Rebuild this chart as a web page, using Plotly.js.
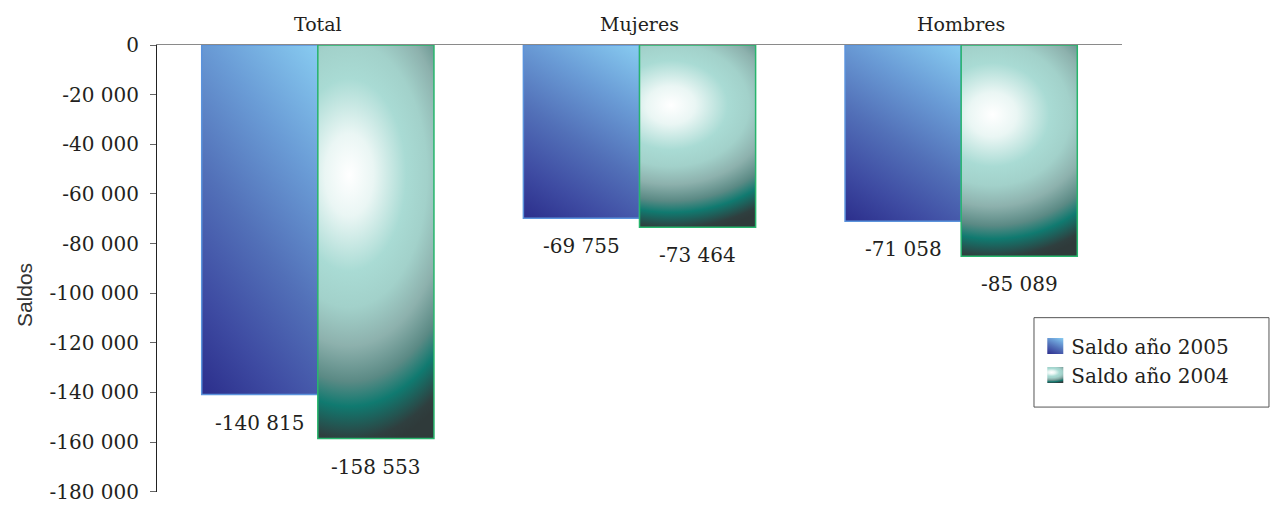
<!DOCTYPE html>
<html>
<head>
<meta charset="utf-8">
<script src="https://cdn.plot.ly/plotly-3.0.1.min.js"></script>
<style>
html,body{margin:0;padding:0;background:#fff;}
#chart{width:1270px;height:505px;}
</style>
</head>
<body>
<div id="chart"></div>
<script>
// ---- data ----
const categories = ["Total", "Mujeres", "Hombres"];
const seriesNames = ["Saldo año 2005", "Saldo año 2004"];
const saldo2005 = [-140815, -69755, -71058];
const saldo2004 = [-158553, -73464, -85089];
const yTickVals = [0, -20000, -40000, -60000, -80000, -100000, -120000, -140000, -160000, -180000];
const yTickText = ["0", "-20 000", "-40 000", "-60 000", "-80 000", "-100 000", "-120 000", "-140 000", "-160 000", "-180 000"];

function fmt(v) {
  const s = Math.abs(v).toString().replace(/\B(?=(\d{3})+(?!\d))/g, " ");
  return (v < 0 ? "-" : "") + s;
}

const serif = "DejaVu Serif, serif";
const textColor = "#231f20";
const bargap = 0.278;

const traces = [
  {
    type: "bar", name: seriesNames[0], x: categories, y: saldo2005,
    marker: {color: "#4a67b2", line: {color: "#5b93dc", width: 1.5}},
    hoverinfo: "none"
  },
  {
    type: "bar", name: seriesNames[1], x: categories, y: saldo2004,
    marker: {color: "#8fc9c1", line: {color: "#27b56c", width: 1.5}},
    hoverinfo: "none"
  }
];

// data labels below each bar end
const annotations = [];
[saldo2005, saldo2004].forEach((arr, j) => {
  arr.forEach((v, i) => {
    annotations.push({
      x: i + (j === 0 ? -1 : 1) * (1 - bargap) / 4,
      y: v, xref: "x", yref: "y",
      text: fmt(v), showarrow: false,
      yshift: -28, yanchor: "middle", xanchor: "center",
      font: {family: serif, size: 20, color: textColor}
    });
  });
});
annotations.push({
  xref: "paper", yref: "paper", x: -0.137, y: 0.44,
  text: "Saldos", textangle: -90, showarrow: false,
  xanchor: "center", yanchor: "middle",
  font: {family: "Liberation Sans, Arial, sans-serif", size: 21, color: "#333"}
});

const layout = {
  width: 1270, height: 505,
  margin: {l: 157, r: 148, t: 45, b: 13, pad: 0},
  paper_bgcolor: "#fff", plot_bgcolor: "#fff",
  barmode: "group", bargap: bargap, bargroupgap: 0,
  showlegend: true,
  legend: {
    x: 0.906, y: 0.37, xanchor: "left", yanchor: "top",
    bgcolor: "rgba(0,0,0,0)", borderwidth: 0,
    font: {family: serif, size: 20, color: textColor},
    traceorder: "normal"
  },
  xaxis: {
    type: "category", side: "top",
    showline: true, linecolor: "#8a8a8a", linewidth: 1.5,
    ticks: "", showgrid: false, zeroline: false,
    tickfont: {family: serif, size: 19, color: textColor},
    ticklabelstandoff: 5
  },
  yaxis: {
    range: [-180100, 0], autorange: false,
    tickmode: "array", tickvals: yTickVals, ticktext: yTickText,
    showline: true, linecolor: "#222", linewidth: 1,
    ticks: "outside", ticklen: 6, tickcolor: "#666", tickwidth: 1,
    showgrid: false, zeroline: false,
    tickfont: {family: serif, size: 20, color: textColor},
    ticklabelstandoff: 7,
    ticklabeloverflow: "allow"
  },
  shapes: [{
    type: "rect", xref: "paper", yref: "paper",
    x0: 0.9088, x1: 1.1523, y0: 0.19, y1: 0.39,
    line: {color: "#555", width: 1}, fillcolor: "rgba(0,0,0,0)"
  }],
  annotations: annotations
};

const gd = document.getElementById("chart");
Plotly.newPlot(gd, traces, layout, {staticPlot: true, displayModeBar: false}).then(() => {
  const svg = gd.querySelector("svg.main-svg");
  const NS = "http://www.w3.org/2000/svg";
  let defs = svg.querySelector("defs");
  if (!defs) { defs = document.createElementNS(NS, "defs"); svg.insertBefore(defs, svg.firstChild); }
  const html = `
    <linearGradient id="gBlue" x1="1" y1="0" x2="0.48" y2="1.2" gradientUnits="objectBoundingBox">
      <stop offset="0" stop-color="#88ccf1"/>
      <stop offset="0.28" stop-color="#6a9cd6"/>
      <stop offset="0.55" stop-color="#5270b8"/>
      <stop offset="0.8" stop-color="#3e4ba2"/>
      <stop offset="1" stop-color="#2c2f8c"/>
    </linearGradient>
    <radialGradient id="gTeal" cx="0.27" cy="0.33" r="0.7" fx="0.27" fy="0.33" gradientUnits="objectBoundingBox"
      gradientTransform="translate(0.27,0.33) scale(2,1) translate(-0.27,-0.33)">
      <stop offset="0" stop-color="#ffffff"/>
      <stop offset="0.15" stop-color="#eaf6f4"/>
      <stop offset="0.35" stop-color="#a9dbd4"/>
      <stop offset="0.48" stop-color="#a2d1ca"/>
      <stop offset="0.62" stop-color="#8db1ad"/>
      <stop offset="0.75" stop-color="#5b8a85"/>
      <stop offset="0.84" stop-color="#107a70"/>
      <stop offset="0.96" stop-color="#2f3f3f"/>
      <stop offset="1" stop-color="#2f3a3a"/>
    </radialGradient>`;
  const tmp = document.createElementNS(NS, "g");
  tmp.innerHTML = html;
  Array.from(tmp.childNodes).forEach(n => { if (n.nodeType === 1) defs.appendChild(n); });
  const fills = ["url(#gBlue)", "url(#gTeal)"];
  gd.querySelectorAll(".barlayer .trace").forEach((t, j) => {
    t.querySelectorAll(".point path").forEach(p => { p.style.fill = fills[j]; });
  });
  gd.querySelectorAll(".legend .traces").forEach((t, j) => {
    t.querySelectorAll(".legendpoints path").forEach(p => {
      p.setAttribute("d", "M12,8H-4V-8H12Z");
      p.style.fill = fills[j];
      p.style.strokeWidth = "0";
    });
  });
});
</script>
</body>
</html>
